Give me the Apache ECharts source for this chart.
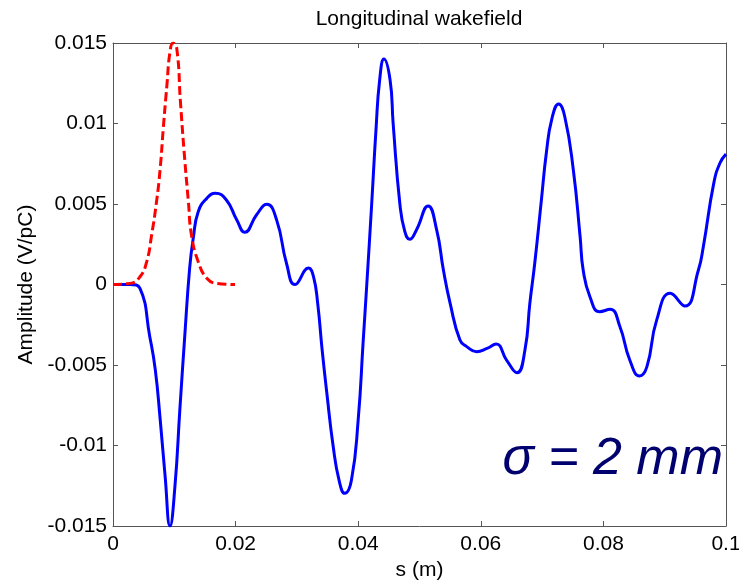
<!DOCTYPE html>
<html>
<head>
<meta charset="utf-8">
<script src="https://cdn.jsdelivr.net/npm/echarts@6/dist/echarts.min.js"></script>
<style>
html,body{margin:0;padding:0;background:#fff;}
#chart{width:739px;height:581px;}
</style>
</head>
<body>
<div id="chart"></div>
<script>
// Wakefield (blue solid): s in metres, amplitude in V/pC
const sWake = [0, 0.0028, 0.0044, 0.006, 0.0069, 0.0077, 0.0085, 0.0093, 0.0101, 0.0109, 0.0117, 0.0125, 0.0131, 0.0139, 0.0153, 0.0167, 0.0185, 0.0202, 0.0215, 0.0234, 0.0251, 0.0267, 0.0283, 0.0297, 0.0319, 0.0327, 0.0334, 0.0341, 0.0349, 0.0359, 0.0369, 0.0378, 0.0389, 0.04, 0.0408, 0.0414, 0.0422, 0.0429, 0.0435, 0.0442, 0.0452, 0.0457, 0.0468, 0.0476, 0.0484, 0.0495, 0.0514, 0.0528, 0.0539, 0.055, 0.0566, 0.0577, 0.0593, 0.061, 0.0625, 0.0642, 0.0659, 0.0672, 0.068, 0.0688, 0.0699, 0.0707, 0.0716, 0.0727, 0.0737, 0.0751, 0.0762, 0.0767, 0.0778, 0.0794, 0.0811, 0.0827, 0.0843, 0.0859, 0.0871, 0.0887, 0.0909, 0.0933, 0.0955, 0.0963, 0.098, 0.099, 0.1];
const wake = [0, 0, -0.00024, -0.00324, -0.0053, -0.0084, -0.0119, -0.0150, -0.01256, -0.0078, -0.00324, 0.001, 0.0029, 0.00452, 0.00535, 0.00566, 0.00525, 0.004, 0.00324, 0.00432, 0.00498, 0.004, 0.00132, 0.0000, 0.00102, 0.0005, -0.0012, -0.0040, -0.0068, -0.0100, -0.0122, -0.01297, -0.01214, -0.0084, -0.0036, 0.0000, 0.0050, 0.0096, 0.0127, 0.0140, 0.0127, 0.0100, 0.0050, 0.0033, 0.00281, 0.00339, 0.00488, 0.00339, 0.0009, -0.00117, -0.00345, -0.00386, -0.00417, -0.00397, -0.0037, -0.00469, -0.00548, -0.00407, -0.00117, 0.00132, 0.0053, 0.0082, 0.0103, 0.01121, 0.01042, 0.0071, 0.00297, 0.0009, -0.00076, -0.00169, -0.00154, -0.00262, -0.00469, -0.00568, -0.0051, -0.0022, -0.00055, -0.00134, 0.0009, 0.00235, 0.00628, 0.00753, 0.0081];

// Bunch profile (red dashed)
const sBunch = [0, 0.0028, 0.0044, 0.0055, 0.0063, 0.0071, 0.0077, 0.0082, 0.0088, 0.0093, 0.0098, 0.0104, 0.011, 0.0116, 0.0123, 0.0128, 0.0139, 0.0153, 0.0169, 0.0199];
const bunch = [0, 0.00007, 0.00048, 0.00142, 0.00307, 0.00514, 0.00722, 0.0097, 0.0124, 0.01446, 0.0150, 0.01467, 0.01135, 0.00825, 0.00514, 0.00307, 0.00142, 0.00039, 0.00007, 0];

const xTicks = ['0', '0.02', '0.04', '0.06', '0.08', '0.1'];
const yTicks = ['-0.015', '-0.01', '-0.005', '0', '0.005', '0.01', '0.015'];

const titleText = 'Longitudinal wakefield';
const xName = 's (m)';
const yName = 'Amplitude (V/pC)';
const note = 'σ = 2 mm';

const FONT = '"Liberation Sans", Arial, Helvetica, sans-serif';
const AX = '#555555';

function fmt(list, v) {
  const r = parseFloat(v.toFixed(4));
  for (const t of list) if (Math.abs(parseFloat(t) - r) < 1e-9) return t;
  return String(r);
}

const chart = echarts.init(document.getElementById('chart'), null, {renderer: 'canvas'});

function common() {
  return {
    axisLine: {show: true, onZero: false, lineStyle: {color: AX, width: 1}},
    axisTick: {show: true, inside: true, length: 5, lineStyle: {color: AX}},
    splitLine: {show: false}
  };
}

chart.setOption({
  animation: false,
  backgroundColor: '#ffffff',
  grid: {left: 113, right: 13, top: 43, bottom: 55, containLabel: false, outerBoundsMode: 'none'},
  xAxis: [
    Object.assign({
      type: 'value', min: 0, max: 0.1, interval: 0.02, position: 'bottom',
      name: xName, nameLocation: 'middle', nameGap: 31,
      nameTextStyle: {fontFamily: FONT, fontSize: 21, color: '#000'},
      axisLabel: {fontFamily: FONT, fontSize: 21, color: '#000', margin: 8,
        formatter: v => fmt(xTicks, v)}
    }, common()),
    Object.assign({
      type: 'value', min: 0, max: 0.1, interval: 0.02, position: 'top',
      axisLabel: {show: false}
    }, common())
  ],
  yAxis: [
    Object.assign({
      type: 'value', min: -0.015, max: 0.015, interval: 0.005, position: 'left',
      name: yName, nameLocation: 'middle', nameGap: 76, nameRotate: 90,
      nameTextStyle: {fontFamily: FONT, fontSize: 21, color: '#000'},
      axisLabel: {fontFamily: FONT, fontSize: 21, color: '#000', margin: 6,
        formatter: v => fmt(yTicks, v)}
    }, common()),
    Object.assign({
      type: 'value', min: -0.015, max: 0.015, interval: 0.005, position: 'right',
      axisLabel: {show: false}
    }, common())
  ],
  series: [
    {
      type: 'line', xAxisIndex: 0, yAxisIndex: 0,
      data: sWake.map((s, i) => [s, wake[i]]),
      smooth: 0.5, showSymbol: false, symbol: 'none',
      lineStyle: {color: '#0000ff', width: 3}, z: 2
    },
    {
      type: 'line', xAxisIndex: 0, yAxisIndex: 0,
      data: sBunch.map((s, i) => [s, bunch[i]]),
      smooth: 0.5, showSymbol: false, symbol: 'none',
      lineStyle: {color: '#ff0000', width: 3, type: [9, 4]}, z: 3
    }
  ],
  graphic: [
    {
      type: 'text', x: 419, y: 9,
      style: {
        text: titleText, fill: '#000',
        font: '21px ' + FONT,
        textAlign: 'center', textVerticalAlign: 'top'
      }
    },
    {
      type: 'text', right: 16, top: 434,
      style: {
        text: note, fill: '#00006e',
        font: 'italic 52px ' + FONT,
        textAlign: 'right'
      }
    }
  ]
});
</script>
</body>
</html>
